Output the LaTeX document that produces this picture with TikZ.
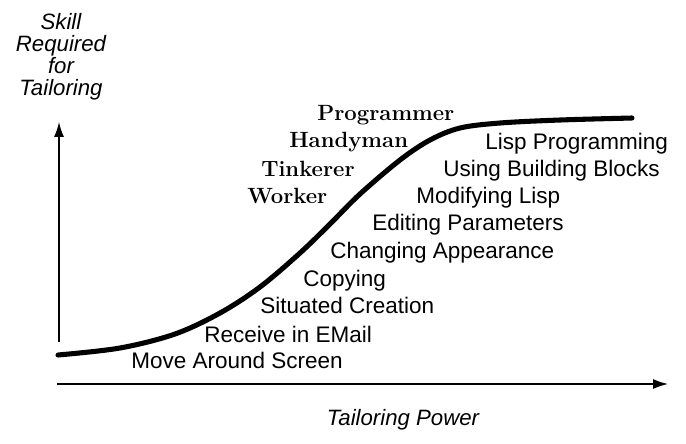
\documentclass[tikz,border=0pt]{standalone}
\usepackage{fontspec}
\setsansfont{Liberation Sans}
\usetikzlibrary{arrows.meta}

\begin{document}
\begin{tikzpicture}[x=0.025cm, y=-0.025cm,
  task/.style={anchor=base west, inner sep=0pt, font=\sffamily\fontsize{16}{19}\selectfont},
  role/.style={anchor=base west, inner sep=0pt, font=\bfseries\fontsize{15.7}{19}\selectfont},
  axislabel/.style={inner sep=0pt, align=center, font=\sffamily\itshape\fontsize{15.8}{15.6}\selectfont},
  axisline/.style={line width=1pt, -{Latex[length=10.5pt, width=7pt]}}]
  \useasboundingbox (0,0) rectangle (686,443);
  % axes
  \coordinate (ybot) at (59,342);  \coordinate (ytop) at (59,122);
  \coordinate (xbeg) at (57,384);  \coordinate (xend) at (668,384);
  \draw[axisline] (ybot) -- (ytop);
  \draw[axisline] (xbeg) -- (xend);
  \node[axislabel, anchor=north] (skill) at (61,13) {Skill\\Required\\for\\Tailoring};
  \node[axislabel, anchor=base] (power) at (403,425) {Tailoring Power};
  % the curve
  \draw[line width=3.6pt, line cap=round] plot[smooth, tension=0.55] coordinates
    {(58,355) (120,348) (175,334) (220,313) (260,287) (300,253) (330,224)
     (360,194) (400,160) (430,140) (460,128) (500,123) (560,120) (632,118)};
  % kinds of users
  \node[role] (programmer) at (317,120) {Programmer};
  \node[role] (handyman)   at (289,147) {Handyman};
  \node[role] (tinkerer)   at (261,176) {Tinkerer};
  \node[role] (worker)     at (247,203) {Worker};
  % kinds of tailoring
  \node[task] (lisp)     at (485,149) {Lisp Programming};
  \node[task] (blocks)   at (443,176) {Using Building Blocks};
  \node[task] (modlisp)  at (416,203) {Modifying Lisp};
  \node[task] (params)   at (372,230) {Editing Parameters};
  \node[task] (appear)   at (330,258) {Changing Appearance};
  \node[task] (copying)  at (303,286) {Copying};
  \node[task] (situated) at (260,313) {Situated Creation};
  \node[task] (email)    at (204,342) {Receive in EMail};
  \node[task] (move)     at (131,368) {Move Around Screen};
\end{tikzpicture}
\end{document}
